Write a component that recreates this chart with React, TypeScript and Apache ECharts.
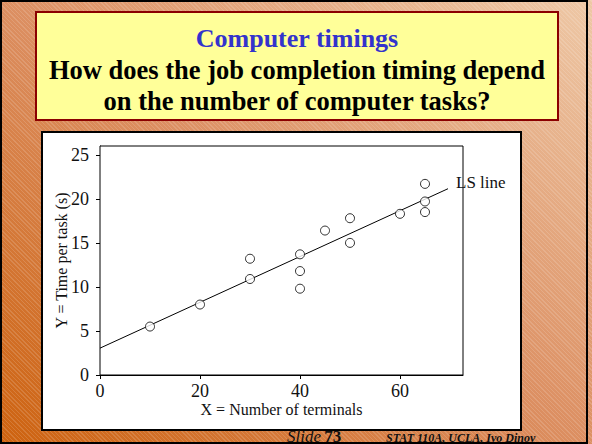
import { useEffect, useRef } from "react";
import * as echarts from "echarts";

// Number of terminals (x) and time per task in seconds (y)
const terminals = [10, 20, 30, 30, 40, 40, 40, 45, 50, 50, 60, 65, 65, 65];
const timePerTask = [5.5, 8.0, 10.9, 13.2, 13.7, 11.8, 9.8, 16.4, 17.8, 15.0, 18.3, 21.7, 19.7, 18.5];

// Least-squares line end points
const lsLineX = [0, 69.6];
const lsLineY = [3.05, 21.15];

const xTicks = [0, 20, 40, 60];
const yTicks = [0, 5, 10, 15, 20, 25];

const SERIF = "'Liberation Serif', 'DejaVu Serif', serif";

export default function App() {
  const ref = useRef<HTMLDivElement>(null);

  useEffect(() => {
    if (!ref.current) return;
    const chart = echarts.init(ref.current, undefined, { renderer: "svg" });

    chart.setOption({
      animation: false,
      textStyle: { fontFamily: SERIF },
      grid: {
        left: 100,
        top: 146,
        width: 363,
        height: 229,
        show: true,
        backgroundColor: "#ffffff",
        borderColor: "#000000",
        borderWidth: 1,
        z: 1,
      },
      xAxis: {
        type: "value",
        min: 0,
        max: 72.6,
        interval: 20,
        name: "X = Number of terminals",
        nameLocation: "middle",
        nameGap: 26,
        nameMoveOverlap: false,
        nameTextStyle: { fontFamily: SERIF, fontSize: 16, color: "#111" },
        splitLine: { show: false },
        axisLine: { lineStyle: { color: "#000", width: 1 } },
        axisTick: {
          inside: false,
          length: 4,
          customValues: xTicks,
          lineStyle: { color: "#000" },
        },
        axisLabel: {
          customValues: xTicks,
          fontFamily: SERIF,
          fontSize: 18,
          color: "#111",
          margin: 7,
        },
      },
      yAxis: {
        type: "value",
        min: 0,
        max: 26,
        interval: 5,
        name: "Y = Time per task (s)",
        nameLocation: "middle",
        nameGap: 31,
        nameMoveOverlap: false,
        nameRotate: 90,
        nameTextStyle: { fontFamily: SERIF, fontSize: 16, color: "#111" },
        splitLine: { show: false },
        axisLine: { lineStyle: { color: "#000", width: 1 } },
        axisTick: {
          inside: false,
          length: 4,
          customValues: yTicks,
          lineStyle: { color: "#000" },
        },
        axisLabel: {
          customValues: yTicks,
          fontFamily: SERIF,
          fontSize: 18,
          color: "#111",
          margin: 11,
        },
      },
      series: [
        {
          type: "line",
          data: lsLineX.map((x, i) => [x, lsLineY[i]]),
          symbol: "none",
          lineStyle: { color: "#000", width: 1 },
          z: 3,
          endLabel: {
            show: true,
            formatter: "LS line",
            fontFamily: SERIF,
            fontSize: 17,
            color: "#111",
            distance: 8,
            offset: [0, -6],
          },
        },
        {
          type: "scatter",
          data: terminals.map((x, i) => [x, timePerTask[i]]),
          symbol: "circle",
          symbolSize: 9,
          itemStyle: { color: "#ffffff", borderColor: "#000", borderWidth: 1 },
          z: 4,
        },
      ],
      graphic: [
        // slide frame
        {
          type: "rect",
          z: -20,
          shape: { x: 1, y: 1, width: 586, height: 442 },
          style: { fill: "none", stroke: "#000", lineWidth: 2 },
        },
        // title box
        {
          type: "rect",
          z: -10,
          shape: { x: 36, y: 12, width: 522, height: 108 },
          style: { fill: "#ffff99", stroke: "#8b0000", lineWidth: 2 },
        },
        {
          type: "text",
          z: -9,
          x: 297,
          y: 38,
          style: {
            text: "Computer timings",
            font: `bold 26px ${SERIF}`,
            fill: "#3333cc",
            align: "center",
            verticalAlign: "middle",
          },
        },
        {
          type: "text",
          z: -9,
          x: 297,
          y: 70,
          style: {
            text: "How does the job completion timing depend",
            font: `bold 26.5px ${SERIF}`,
            fill: "#000",
            align: "center",
            verticalAlign: "middle",
          },
        },
        {
          type: "text",
          z: -9,
          x: 297,
          y: 101,
          style: {
            text: "on the number of computer tasks?",
            font: `bold 26.5px ${SERIF}`,
            fill: "#000",
            align: "center",
            verticalAlign: "middle",
          },
        },
        // chart panel
        {
          type: "rect",
          z: -10,
          shape: { x: 42, y: 132, width: 479, height: 298 },
          style: { fill: "#ffffff", stroke: "#000", lineWidth: 2 },
        },
        // footer
        {
          type: "text",
          z: -9,
          x: 287,
          y: 436,
          style: {
            text: "{a|Slide} {b|73}",
            verticalAlign: "middle",
            rich: {
              a: { font: `italic 17px ${SERIF}`, fill: "#111" },
              b: { font: `bold 17px ${SERIF}`, fill: "#111" },
            },
          },
        },
        {
          type: "text",
          z: -9,
          x: 386,
          y: 438,
          style: {
            text: "STAT 110A, UCLA, Ivo Dinov",
            font: `italic bold 12px ${SERIF}`,
            fill: "#111",
            verticalAlign: "middle",
          },
        },
      ],
    });

    return () => chart.dispose();
  }, []);

  return (
    <div
      style={{
        position: "fixed",
        left: 0,
        top: 0,
        width: 592,
        height: 444,
        background:
          "repeating-linear-gradient(45deg, rgba(255,255,255,0) 0px, rgba(255,255,255,0) 2px, rgba(255,255,255,0.14) 2px, rgba(255,255,255,0.14) 3px), linear-gradient(to top right, #cd620f 0%, #dc8f62 50%, #eec8a6 100%)",
      }}
    >
      <div ref={ref} style={{ width: 592, height: 444 }} />
    </div>
  );
}
